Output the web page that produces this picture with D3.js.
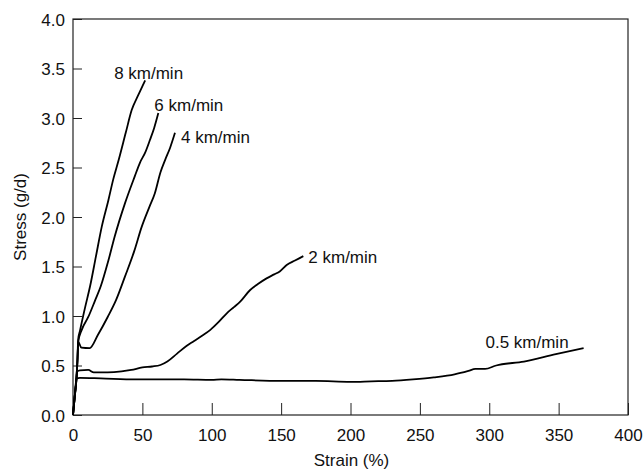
<!DOCTYPE html>
<html>
<head>
<meta charset="utf-8">
<script src="https://cdn.jsdelivr.net/npm/d3@7"></script>
<style>
  body { margin: 0; background: #fff; }
  svg text { font-family: "Liberation Sans", Arial, sans-serif; fill: #111; }
</style>
</head>
<body>
<div id="chart"></div>
<script>
// strain (%) , stress (g/d)
var speed05 = [[0,0],[1.2,0.18],[2.5,0.37],[5,0.375],[20,0.37],[45,0.36],[80,0.36],[100,0.355],[107,0.36],[120,0.355],
  [150,0.345],[175,0.345],[200,0.335],[215,0.34],[230,0.345],[245,0.36],[260,0.38],[275,0.41],[285,0.445],[290,0.465],
  [297,0.465],[305,0.5],[325,0.54],[348,0.615],[368,0.675]];
var speed2 = [[0,0],[1.2,0.18],[2.5,0.37],[3,0.44],[5,0.45],[11,0.455],[15,0.43],[25,0.43],[35,0.44],[42,0.455],[50,0.48],
  [57,0.49],[63,0.505],[68,0.54],[75,0.62],[82,0.7],[87,0.745],[93,0.8],[99,0.86],[105,0.94],[111,1.03],[116,1.09],
  [120.5,1.145],[127.5,1.26],[133,1.32],[139.5,1.38],[145,1.42],[149,1.45],[154,1.515],[160,1.56],[166,1.605]];
var speed4 = [[0,0],[1.2,0.18],[2.5,0.37],[3.2,0.55],[3.8,0.74],[6,0.68],[12,0.675],[18,0.81],[25,0.99],[31,1.16],
  [37.5,1.4],[44,1.65],[49.5,1.9],[55,2.1],[59,2.24],[63,2.45],[66.5,2.58],[70,2.7],[73.5,2.85]];
var speed6 = [[0,0],[1.2,0.18],[2.5,0.37],[3.2,0.55],[3.8,0.74],[6.3,0.86],[11,0.99],[16,1.16],[20,1.3],[25.5,1.56],
  [30,1.8],[37.5,2.14],[44.5,2.41],[48.3,2.55],[52,2.65],[55.5,2.78],[58.5,2.9],[61.5,3.05]];
var speed8 = [[0,0],[1.2,0.18],[2.5,0.37],[3.2,0.55],[3.7,0.76],[5,0.85],[8.6,1.08],[12.3,1.3],[16.5,1.6],[20.7,1.9],
  [25.5,2.17],[29,2.38],[33,2.58],[38,2.85],[42.3,3.08],[47,3.23],[52,3.38]];

var seriesNames = ["8 km/min", "6 km/min", "4 km/min", "2 km/min", "0.5 km/min"];
var seriesData = [speed8, speed6, speed4, speed2, speed05];

var xTicks = [0, 50, 100, 150, 200, 250, 300, 350, 400];
var yTicks = [0, 0.5, 1, 1.5, 2, 2.5, 3, 3.5, 4];

var W = 644, H = 470;
var margin = { top: 19, right: 16, bottom: 55, left: 73 },
  width = W - margin.left - margin.right,
  height = H - margin.top - margin.bottom;

var svg = d3.select("#chart").append("svg")
  .attr("width", W)
  .attr("height", H);

var g = svg.append("g")
  .attr("transform", "translate(" + margin.left + "," + margin.top + ")");

var x = d3.scaleLinear().domain([0, 400]).range([0, width]);
var y = d3.scaleLinear().domain([0, 4]).range([height, 0]);

// bottom axis, ticks pointing inward
var xAxis = g.append("g")
  .attr("transform", "translate(0," + height + ")")
  .call(d3.axisBottom(x).tickValues(xTicks).tickSizeInner(-12).tickSizeOuter(0).tickPadding(14)
    .tickFormat(d3.format("d")));

var yAxis = g.append("g")
  .call(d3.axisLeft(y).tickValues(yTicks).tickSizeInner(-9).tickSizeOuter(0).tickPadding(8)
    .tickFormat(d3.format(".1f")));

[xAxis, yAxis].forEach(function(a) {
  a.select(".domain").remove();
  a.selectAll(".tick line").attr("stroke", "#222").attr("stroke-width", 1);
  a.selectAll(".tick text").style("font-size", "17px").attr("fill", "#111");
});
yAxis.selectAll(".tick text").attr("dy", "0.36em");
xAxis.selectAll(".tick text").attr("dy", "0.71em");

// frame
g.append("rect")
  .attr("x", 0).attr("y", 0)
  .attr("width", width).attr("height", height)
  .attr("fill", "none")
  .attr("stroke", "#222")
  .attr("stroke-width", 1.2);

// axis titles
svg.append("text")
  .attr("x", margin.left + width / 2 + 1)
  .attr("y", 466)
  .attr("text-anchor", "middle")
  .style("font-size", "17px")
  .text("Strain (%)");

svg.append("text")
  .attr("transform", "translate(26," + (margin.top + height / 2) + ")rotate(-90)")
  .attr("text-anchor", "middle")
  .style("font-size", "17px")
  .text("Stress (g/d)");

var line = d3.line()
  .x(function(d) { return x(d[0]); })
  .y(function(d) { return y(d[1]); })
  .curve(d3.curveMonotoneX);

g.selectAll("path.curve")
  .data(seriesData)
  .enter().append("path")
  .attr("class", "curve")
  .attr("d", line)
  .attr("fill", "none")
  .attr("stroke", "#000")
  .attr("stroke-width", 1.8)
  .attr("stroke-linejoin", "round");

// curve labels, placed relative to each curve's last point
var labelShift = [[-31, -1, "start"], [-4, -2, "start"], [6, 10, "start"], [5, 7, "start"], [-15, 0, "end"]];
g.selectAll("text.curve-label")
  .data(seriesData)
  .enter().append("text")
  .attr("class", "curve-label")
  .attr("x", function(d, i) { return x(d[d.length - 1][0]) + labelShift[i][0]; })
  .attr("y", function(d, i) { return y(d[d.length - 1][1]) + labelShift[i][1]; })
  .attr("text-anchor", function(d, i) { return labelShift[i][2]; })
  .style("font-size", "17px")
  .text(function(d, i) { return seriesNames[i]; });
</script>
</body>
</html>
